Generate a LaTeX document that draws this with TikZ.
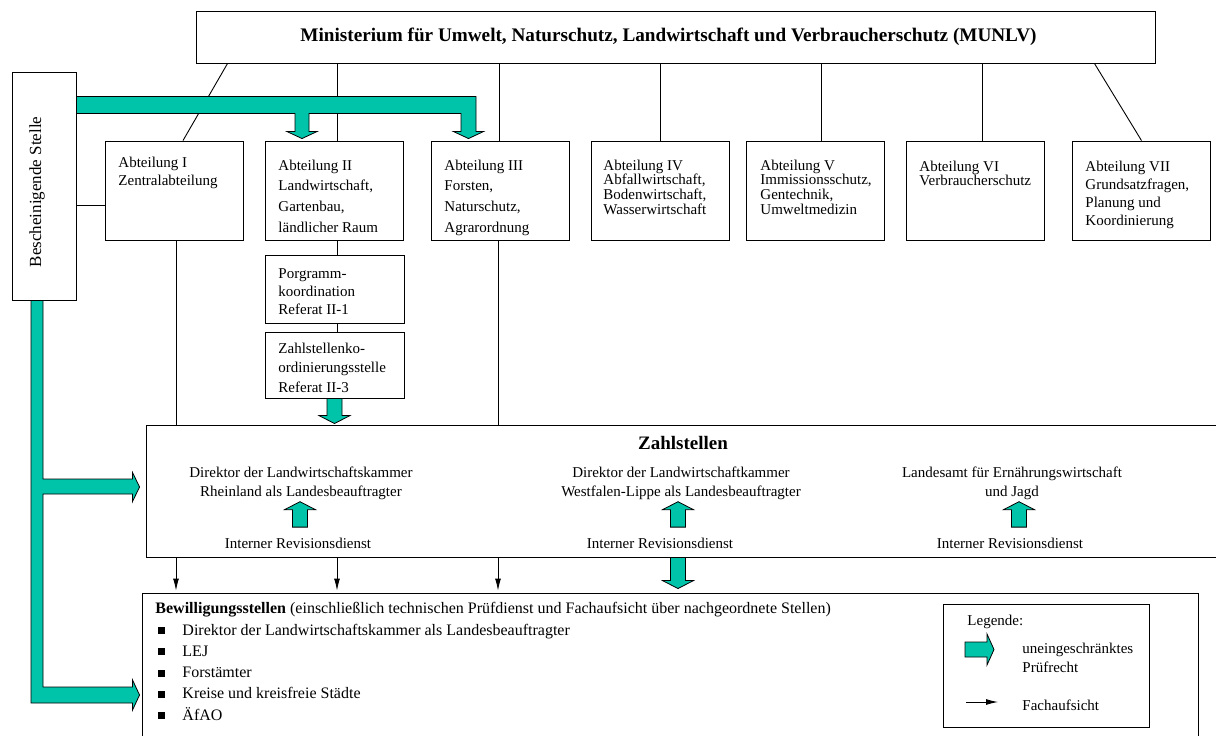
\documentclass[tikz,border=0pt]{standalone}
\usepackage{fontspec}
\setmainfont{Liberation Serif}
\usetikzlibrary{calc,arrows.meta}
\definecolor{pruef}{RGB}{0,196,170}
\newcommand\gbw{7.5pt}
\newcommand\ghw{15.5pt}
\newcommand\ghl{8pt}
\newcommand\gdown[2]{\filldraw[garrow] let \p1=(#1), \p2=(#2) in
  (\x2-\gbw,\y1) -- (\x2+\gbw,\y1) -- (\x2+\gbw,\y2+\ghl) -- (\x2+\ghw,\y2+\ghl) -- (\p2)
  -- (\x2-\ghw,\y2+\ghl) -- (\x2-\gbw,\y2+\ghl) -- cycle;}
\newcommand\gup[2]{\filldraw[garrow] let \p1=(#1), \p2=(#2) in
  (\x2-\gbw,\y1) -- (\x2+\gbw,\y1) -- (\x2+\gbw,\y2-\ghl) -- (\x2+\ghw,\y2-\ghl) -- (\p2)
  -- (\x2-\ghw,\y2-\ghl) -- (\x2-\gbw,\y2-\ghl) -- cycle;}
\begin{document}
\begin{tikzpicture}[x=1pt,y=-1pt,line width=0.9pt,>={Latex[length=12pt,width=6pt]},
  box/.style={draw,inner sep=0pt},
  abt/.style={box,minimum width=138pt,minimum height=99pt},
  txt/.style={anchor=base west,inner sep=0pt,font=\fontsize{15}{18}\selectfont},
  ctxt/.style={txt,anchor=base},
  btxt/.style={txt,font=\fontsize{16}{19}\selectfont},
  garrow/.style={draw=black,fill=pruef,line width=0.8pt}]
\useasboundingbox (0,0) rectangle (1216,736);
\clip (0,0) rectangle (1216,736);
% Ministerium
\node[box,minimum width=959pt,minimum height=52pt] (m) at (675.5,37) {};
\node[inner sep=0pt,font=\bfseries\fontsize{19.2}{22}\selectfont] (mt) at (668.5,37)
  {Ministerium für Umwelt, Naturschutz, Landwirtschaft und Verbraucherschutz (MUNLV)};
% Abteilungen
\foreach \n/\x in {1/174.5,2/334.5,3/500,4/660,5/815,6/975,7/1141.5}
  \node[abt] (a\n) at (\x,190.5) {};
\foreach \t [count=\i from 0] in {Abteilung I,Zentralabteilung}
  \node[txt] (ta1-\i) at (118,{167+18*\i}) {\t};
\foreach \t [count=\i from 0] in {Abteilung II,{Landwirtschaft,},{Gartenbau,},ländlicher Raum}
  \node[txt] (ta2-\i) at (278,{170+20.7*\i}) {\t};
\foreach \t [count=\i from 0] in {Abteilung III,{Forsten,},{Naturschutz,},Agrarordnung}
  \node[txt] (ta3-\i) at (444,{170+20.7*\i}) {\t};
\foreach \t [count=\i from 0] in {Abteilung IV,{Abfallwirtschaft,},{Bodenwirtschaft,},Wasserwirtschaft}
  \node[txt] (ta4-\i) at (603,{170+14.7*\i}) {\t};
\foreach \t [count=\i from 0] in {Abteilung V,{Immissionsschutz,},{Gentechnik,},Umweltmedizin}
  \node[txt] (ta5-\i) at (760,{170+14.7*\i}) {\t};
\foreach \t [count=\i from 0] in {Abteilung VI,Verbraucherschutz}
  \node[txt] (ta6-\i) at (919,{171+14.7*\i}) {\t};
\foreach \t [count=\i from 0] in {Abteilung VII,{Grundsatzfragen,},Planung und,Koordinierung}
  \node[txt] (ta7-\i) at (1085,{171+18*\i}) {\t};
% Referate
\node[box,minimum width=139pt,minimum height=68pt] (p1) at (334.5,289) {};
\node[box,minimum width=139pt,minimum height=66pt] (p3) at (334.5,365) {};
\foreach \t [count=\i from 0] in {Porgramm-,koordination,Referat II-1}
  \node[txt] (tp1-\i) at (278,{278+18*\i}) {\t};
\foreach \t [count=\i from 0] in {Zahlstellenko-,ordinierungsstelle,Referat II-3}
  \node[txt] (tp3-\i) at (278,{353+19.5*\i}) {\t};
% Bescheinigende Stelle
\node[box,minimum width=64pt,minimum height=228pt] (bs) at (44,186) {};
\node[rotate=90,inner sep=0pt,font=\fontsize{17}{20}\selectfont] (bst) at (37,192) {Bescheinigende Stelle};
% Zahlstellen, Bewilligungsstellen, Legende
\node[box,minimum width=1084pt,minimum height=132pt] (z) at (688,491) {};
\node[box,minimum width=1056pt,minimum height=152pt] (b) at (670,669) {};
\node[box,minimum width=206pt,minimum height=123pt] (leg) at (1046,665.5) {};
% Linien
\draw ($(a1.north)+(8.5,0)$) -- ($(m.south west)+(32,0)$);
\draw (a7.north) -- ($(m.south east)+(-61,0)$);
\foreach \n/\dx in {2/3,3/-1,4/0,5/6,6/7}
  \draw ($(a\n.north)+(\dx,0)$) -- ($(a\n.north |- m.south)+(\dx,0)$);
\draw ($(a2.south)+(3,0)$) -- ($(p1.north)+(3,0)$);
\draw ($(p1.south)+(3,0)$) -- ($(p3.north)+(3,0)$);
\draw ($(a1.south)+(1.5,0)$) -- ($(a1.south |- z.north)+(1.5,0)$);
\draw ($(a3.south)+(-1.5,0)$) -- ($(a3.south |- z.north)+(-1.5,0)$);
\draw ($(bs.east)+(0,19)$) -- ($(bs.east -| a1.west)+(0,19)$);
\foreach \n/\dx in {1/1.5,2/2.5,3/-2}
  \draw[->] ($(a\n.south |- z.south)+(\dx,0)$) -- ($(a\n.south |- b.north)+(\dx,-2)$);
% Pruefrecht
\coordinate (tII) at ($(a2.north)+(-32.5,-2)$);
\coordinate (tIII) at ($(a3.north)+(-31.5,-2)$);
\coordinate (tZ) at ($(z.west)+(-6,-4)$);
\coordinate (tB) at ($(b.west)+(-2,26)$);
\filldraw[garrow] let \p1=(bs.east), \p2=(tII), \p3=(tIII) in
  (\x1,\y3+42pt) -- (\x3+7.5pt,\y3+42pt) -- (\x3+7.5pt,\y3+7pt) -- (\x3+15pt,\y3+7pt) -- (\p3)
  -- (\x3-15pt,\y3+7pt) -- (\x3-7.5pt,\y3+7pt) -- (\x3-7.5pt,\y3+25pt) -- (\x2+7pt,\y2+25pt)
  -- (\x2+7pt,\y2+7pt) -- (\x2+15pt,\y2+7pt) -- (\p2) -- (\x2-15pt,\y2+7pt) -- (\x2-7pt,\y2+7pt)
  -- (\x2-7pt,\y2+25pt) -- (\x1,\y2+25pt) -- cycle;
\filldraw[garrow] let \p1=(bs.south), \p2=(tZ), \p3=(tB) in
  (\x1-13pt,\y1) -- (\x1-1pt,\y1) -- (\x1-1pt,\y2+8pt) -- (\x2-7pt,\y2+8pt) -- (\x2-7pt,\y2+14.5pt) -- (\p2)
  -- (\x2-7pt,\y2-14.5pt) -- (\x2-7pt,\y2-7pt) -- (\x1-1pt,\y2-7pt) -- (\x1-1pt,\y3+8pt)
  -- (\x3-7pt,\y3+8pt) -- (\x3-7pt,\y3+15pt) -- (\p3) -- (\x3-7pt,\y3-15pt) -- (\x3-7pt,\y3-8pt)
  -- (\x1-13pt,\y3-8pt) -- cycle;
\gdown{p3.south}{$(p3.south |- z.north)+(0,-1)$}
% Zahlstellen
\node[inner sep=0pt,font=\bfseries\fontsize{19}{22}\selectfont] (zt) at (683,443) {Zahlstellen};
\foreach \k/\c/\cr/\dc/\ta/\tb in {1/301/298/-1/{Direktor der Landwirtschaftskammer}/{Rheinland als Landesbeauftragter},
    2/681/660/-3/{Direktor der Landwirtschaftkammer}/{Westfalen-Lippe als Landesbeauftragter},
    3/1012/1010/7/{Landesamt für Ernährungswirtschaft}/{und Jagd}}{
  \node[ctxt] (za\k) at (\c,477) {\ta};
  \node[ctxt] (zb\k) at (\c,496) {\tb};
  \node[ctxt] (r\k) at (\cr,548) {Interner Revisionsdienst};
  \gup{$(zb\k.south |- r\k.north)+(\dc,-10)$}{$(zb\k.south)+(\dc,2)$}
}
\gdown{zb2.south |- z.south}{$(zb2.south |- b.north)+(-3,-4)$}
% Bewilligungsstellen
\node[btxt] (bh) at (155,613) {\textbf{Bewilligungsstellen} (einschließlich technischen Prüfdienst und Fachaufsicht über nachgeordnete Stellen)};
\foreach \t [count=\i from 0] in {Direktor der Landwirtschaftskammer als Landesbeauftragter,LEJ,Forstämter,Kreise und kreisfreie Städte,ÄfAO}{
  \node[fill,minimum size=7pt,inner sep=0pt] (bu\i) at (161,{630.5+21.3*\i}) {};
  \node[btxt] (bl\i) at (182,{635+21.3*\i}) {\t};
}
% Legende
\node[txt] (lt) at (967,625) {Legende:};
\node[txt] (lp1) at (1022,653) {uneingeschränktes};
\node[txt] (lp2) at (1022,672) {Prüfrecht};
\node[txt] (lf) at (1022,710) {Fachaufsicht};
\coordinate (lg) at (994,649.5);
\filldraw[garrow,shift={(lg)}] (-29,-7.5) -- (-7,-7.5) -- (-7,-15.5) -- (0,0) -- (-7,15.5) -- (-7,7.5) -- (-29,7.5) -- cycle;
\coordinate (lf0) at (966,702);
\draw[->] (lf0) -- ++(32,0);
\end{tikzpicture}
\end{document}
